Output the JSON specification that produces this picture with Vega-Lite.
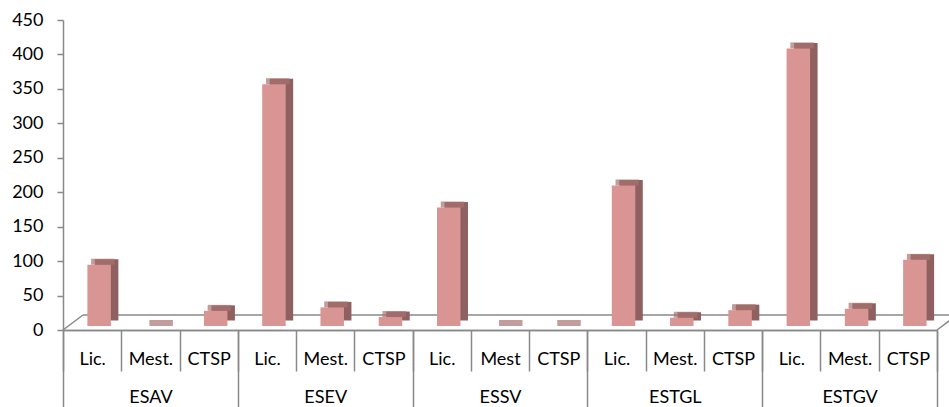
{
  "$schema": "https://vega.github.io/schema/vega-lite/v6.json",
  "width": 874,
  "height": 310,
  "autosize": {"type": "none"},
  "padding": {"left": 63, "top": 20, "right": 12, "bottom": 77},
  "background": "white",
  "config": {
    "view": {"stroke": null},
    "font": "Lato",
    "axis": {"labelFont": "Lato", "labelFontSize": 18, "labelColor": "#000000", "domainColor": "#898989", "tickColor": "#898989", "domainWidth": 1.5, "tickWidth": 1.5, "grid": false, "title": null, "labelOverlap": false}
  },
  "data": {
    "values": [
      {"group": "ESAV", "sub": "Lic.", "id": "ESAV|Lic.", "value": 89},
      {"group": "ESAV", "sub": "Mest.", "id": "ESAV|Mest.", "value": 0},
      {"group": "ESAV", "sub": "CTSP", "id": "ESAV|CTSP", "value": 22},
      {"group": "ESEV", "sub": "Lic.", "id": "ESEV|Lic.", "value": 351},
      {"group": "ESEV", "sub": "Mest.", "id": "ESEV|Mest.", "value": 27},
      {"group": "ESEV", "sub": "CTSP", "id": "ESEV|CTSP", "value": 13},
      {"group": "ESSV", "sub": "Lic.", "id": "ESSV|Lic.", "value": 172},
      {"group": "ESSV", "sub": "Mest", "id": "ESSV|Mest", "value": 0},
      {"group": "ESSV", "sub": "CTSP", "id": "ESSV|CTSP", "value": 0},
      {"group": "ESTGL", "sub": "Lic.", "id": "ESTGL|Lic.", "value": 204},
      {"group": "ESTGL", "sub": "Mest.", "id": "ESTGL|Mest.", "value": 12},
      {"group": "ESTGL", "sub": "CTSP", "id": "ESTGL|CTSP", "value": 23},
      {"group": "ESTGV", "sub": "Lic.", "id": "ESTGV|Lic.", "value": 403},
      {"group": "ESTGV", "sub": "Mest.", "id": "ESTGV|Mest.", "value": 25},
      {"group": "ESTGV", "sub": "CTSP", "id": "ESTGV|CTSP", "value": 96}
    ]
  },
  "layer": [
    {
      "layer": [
        {
          "data": {"values": [{"a": 1}]},
          "mark": {"type": "rule", "color": "#898989", "strokeWidth": 1.5, "xOffset": -9.13, "x2Offset": 49.13, "yOffset": -15},
          "encoding": {
            "x": {"datum": "ESAV|Lic.", "type": "nominal"},
            "x2": {"datum": "ESTGV|CTSP"},
            "y": {"datum": 0, "type": "quantitative", "axis": {"orient": "left", "values": [0, 50, 100, 150, 200, 250, 300, 350, 400, 450], "tickSize": 6, "labelPadding": 14, "labelOverlap": false}}
          }
        },
        {
          "data": {"values": [{"a": 1}]},
          "mark": {"type": "rule", "color": "#898989", "strokeWidth": 1.5, "xOffset": -29.13, "x2Offset": -9.13, "yOffset": 0, "y2Offset": -15},
          "encoding": {
            "x": {"datum": "ESAV|Lic.", "type": "nominal"},
            "x2": {"datum": "ESAV|Lic."},
            "y": {"datum": 0, "type": "quantitative", "axis": {"orient": "left", "values": [0, 50, 100, 150, 200, 250, 300, 350, 400, 450], "tickSize": 6, "labelPadding": 14, "labelOverlap": false}},
            "y2": {"datum": 0}
          }
        },
        {
          "data": {"values": [{"a": 1}]},
          "mark": {"type": "rule", "color": "#898989", "strokeWidth": 1.5, "xOffset": 29.13, "x2Offset": 49.13, "yOffset": 0, "y2Offset": -15},
          "encoding": {
            "x": {"datum": "ESTGV|CTSP", "type": "nominal"},
            "x2": {"datum": "ESTGV|CTSP"},
            "y": {"datum": 0, "type": "quantitative", "axis": {"orient": "left", "values": [0, 50, 100, 150, 200, 250, 300, 350, 400, 450], "tickSize": 6, "labelPadding": 14, "labelOverlap": false}},
            "y2": {"datum": 0}
          }
        },
        {
          "mark": {"type": "bar", "color": "#8E6060", "width": 23.5, "xOffset": 14.5, "yOffset": -9.5, "y2Offset": -9.5},
          "encoding": {
            "x": {"field": "id", "type": "nominal", "sort": null,
              "scale": {"paddingInner": 0, "paddingOuter": 0, "domain": ["ESAV|Lic.", "ESAV|Mest.", "ESAV|CTSP", "ESEV|Lic.", "ESEV|Mest.", "ESEV|CTSP", "ESSV|Lic.", "ESSV|Mest", "ESSV|CTSP", "ESTGL|Lic.", "ESTGL|Mest.", "ESTGL|CTSP", "ESTGV|Lic.", "ESTGV|Mest.", "ESTGV|CTSP"]},
              "axis": {"orient": "bottom", "tickBand": "extent", "tickSize": 41, "labelAngle": 0, "labelAlign": "center", "labelBaseline": "middle", "labelPadding": -12, "labelExpr": "split(datum.value, '|')[1]"}},
            "y": {"field": "value", "type": "quantitative",
              "scale": {"domain": [0, 450], "nice": false},
              "axis": {"orient": "left", "values": [0, 50, 100, 150, 200, 250, 300, 350, 400, 450], "tickSize": 6, "labelPadding": 14, "labelOverlap": false}}
          }
        },
        {
          "mark": {"type": "tick", "color": "#A87371", "size": 23.5, "thickness": 6, "xOffset": 10.75, "yOffset": -7},
          "encoding": {
            "x": {"field": "id", "type": "nominal", "sort": null},
            "y": {"field": "value", "type": "quantitative", "axis": {"orient": "left", "values": [0, 50, 100, 150, 200, 250, 300, 350, 400, 450], "tickSize": 6, "labelPadding": 14, "labelOverlap": false}}
          }
        },
        {
          "mark": {"type": "bar", "color": "#D99594", "width": 23.5, "xOffset": 7, "yOffset": -4, "y2Offset": -4},
          "encoding": {
            "x": {"field": "id", "type": "nominal", "sort": null},
            "y": {"field": "value", "type": "quantitative", "axis": {"orient": "left", "values": [0, 50, 100, 150, 200, 250, 300, 350, 400, 450], "tickSize": 6, "labelPadding": 14, "labelOverlap": false}}
          }
        }
      ]
    },
    {
      "mark": {"type": "tick", "opacity": 0},
      "encoding": {
        "x": {"field": "group", "type": "nominal", "sort": null,
          "scale": {"paddingInner": 0, "paddingOuter": 0},
          "axis": {"orient": "bottom", "tickBand": "extent", "tickSize": 77, "labelAngle": 0, "labelAlign": "center", "labelBaseline": "middle", "labelPadding": -10}}
      }
    }
  ],
  "resolve": {"scale": {"x": "independent"}, "axis": {"x": "independent"}}
}
